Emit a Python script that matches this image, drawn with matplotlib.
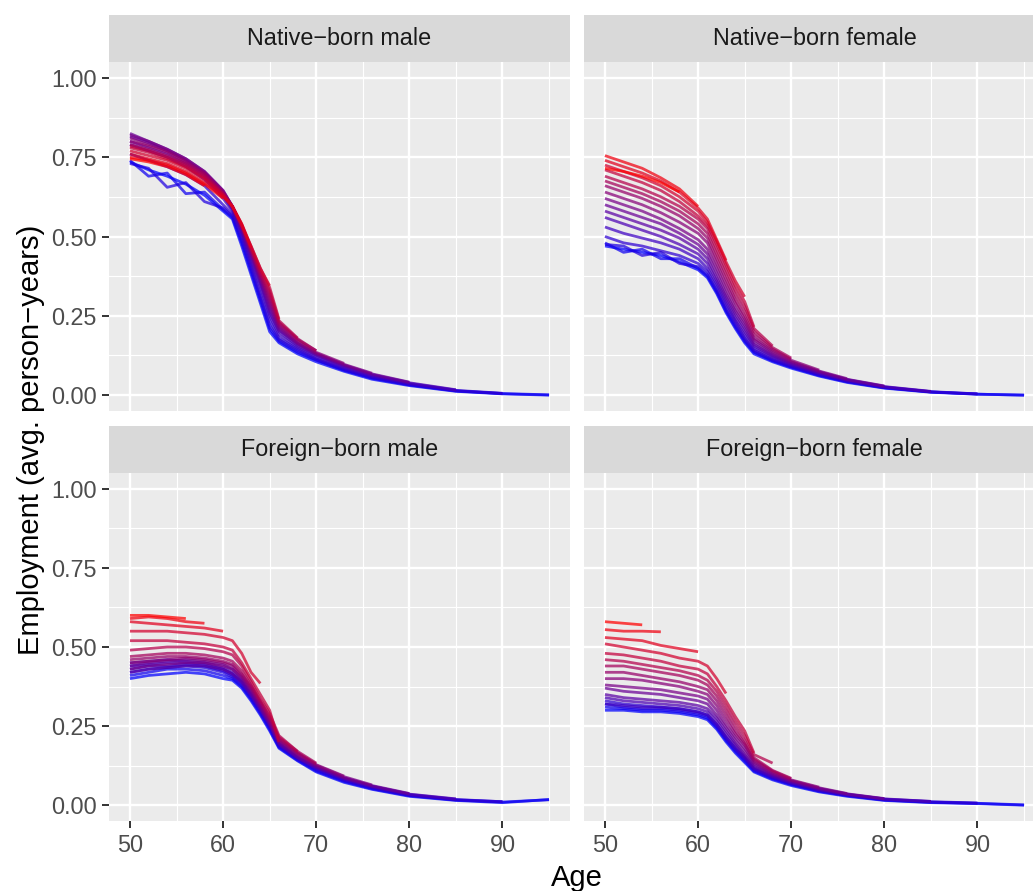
import matplotlib
matplotlib.use("Agg")
import matplotlib.pyplot as plt
from matplotlib.colors import LinearSegmentedColormap

plt.rcParams["font.family"] = ["Liberation Sans", "DejaVu Sans"]

AGES = [50, 52, 54, 56, 58, 60, 61, 62, 63, 64, 65, 66, 68, 70, 73, 76, 80, 85, 90, 95]

# one row per cohort, oldest (blue) first, youngest (red) last;
# rows stop at the last age where the cohort is observed
NB_MALE = [
    [.735, .71, .69, .665, .63, .58, .555, .47, .38, .29, .20, .165, .13, .105, .075, .05, .03, .012, .004, .0],
    [.74, .69, .70, .635, .64, .585, .56, .48, .39, .30, .21, .17, .135, .11, .078, .053, .032, .013, .005, .001],
    [.73, .715, .655, .67, .61, .59, .565, .49, .40, .31, .22, .175, .14, .112, .08, .055, .033, .014, .005],
    [.76, .74, .72, .695, .66, .60, .57, .50, .41, .32, .235, .18, .145, .115, .083, .057, .035, .015, .006],
    [.79, .77, .75, .72, .68, .62, .58, .51, .42, .34, .25, .19, .15, .12, .087, .06, .037, .016],
    [.80, .78, .76, .73, .69, .63, .585, .515, .43, .35, .26, .20, .155, .125, .09, .063, .039, .017],
    [.815, .795, .77, .74, .70, .64, .59, .52, .44, .36, .27, .205, .16, .128, .093, .065, .04],
    [.825, .80, .775, .745, .705, .645, .595, .525, .445, .365, .28, .21, .163, .13, .095, .067, .041],
    [.82, .80, .775, .745, .705, .645, .595, .53, .45, .37, .29, .215, .165, .132, .097, .069],
    [.81, .79, .77, .74, .70, .64, .595, .53, .455, .375, .30, .22, .17, .135, .10],
    [.80, .785, .765, .735, .70, .64, .595, .535, .46, .38, .31, .225, .175, .14],
    [.79, .775, .755, .73, .695, .635, .595, .535, .46, .385, .32, .23, .178, .14],
    [.785, .77, .75, .725, .69, .635, .595, .535, .465, .39, .33, .235, .18],
    [.78, .765, .745, .72, .685, .63, .595, .535, .47, .40, .34, .24],
    [.77, .755, .74, .715, .68, .63, .595, .54, .47, .40, .345],
    [.76, .745, .73, .705, .67, .625, .595, .54, .465],
    [.75, .74, .725, .70, .665, .62],
    [.745, .735, .72, .695, .66],
]

NB_FEMALE = [
    [.47, .46, .45, .44, .42, .395, .37, .32, .26, .21, .165, .13, .105, .085, .06, .04, .022, .009, .003, .0],
    [.48, .45, .46, .43, .43, .40, .375, .325, .265, .215, .17, .135, .108, .088, .062, .042, .023, .01, .003, .0],
    [.475, .47, .44, .45, .415, .405, .38, .33, .27, .22, .175, .138, .11, .09, .064, .043, .024, .01, .004],
    [.50, .48, .47, .455, .44, .415, .39, .34, .28, .23, .18, .142, .113, .092, .066, .045, .025, .011, .004],
    [.53, .51, .495, .48, .46, .43, .40, .35, .29, .235, .19, .148, .118, .095, .068, .046, .026, .011],
    [.56, .54, .52, .50, .475, .445, .415, .36, .30, .245, .20, .155, .122, .098, .07, .048, .027, .012],
    [.58, .56, .54, .52, .495, .46, .43, .37, .31, .255, .21, .16, .126, .10, .072, .049, .028],
    [.60, .58, .56, .54, .51, .475, .445, .385, .32, .265, .22, .167, .13, .103, .074, .05, .029],
    [.62, .60, .58, .555, .525, .49, .46, .40, .335, .275, .23, .175, .135, .106, .076, .052],
    [.64, .62, .60, .575, .545, .51, .48, .415, .35, .29, .24, .18, .14, .11, .079],
    [.66, .64, .62, .595, .565, .525, .495, .43, .365, .30, .25, .19, .145, .113],
    [.675, .655, .635, .61, .58, .54, .51, .445, .38, .315, .265, .20, .15, .117],
    [.69, .67, .65, .625, .595, .555, .525, .46, .395, .33, .28, .21, .155],
    [.71, .69, .67, .645, .61, .565, .535, .475, .41, .345, .295, .215],
    [.725, .705, .685, .66, .625, .58, .545, .485, .42, .36, .31],
    [.74, .72, .70, .675, .64, .59, .555, .49, .425],
    [.755, .735, .715, .685, .65, .595],
    [.715, .705, .69, .67, .64],
]

FB_MALE = [
    [.40, .41, .415, .42, .415, .40, .395, .37, .33, .285, .235, .18, .14, .105, .072, .05, .028, .015, .008, .018],
    [.41, .42, .43, .43, .425, .41, .40, .375, .335, .29, .24, .183, .142, .108, .075, .052, .03, .016, .01, .017],
    [.42, .43, .435, .44, .435, .42, .405, .38, .34, .295, .245, .186, .145, .112, .078, .054, .031, .017, .011],
    [.43, .44, .44, .445, .44, .425, .41, .385, .345, .30, .25, .19, .148, .115, .08, .056, .032, .018, .011],
    [.44, .445, .45, .45, .445, .43, .415, .39, .35, .305, .255, .193, .15, .118, .082, .058, .034, .019],
    [.45, .455, .46, .455, .45, .435, .42, .395, .355, .31, .26, .196, .152, .12, .085, .06, .035, .02],
    [.42, .43, .435, .44, .44, .43, .415, .39, .35, .305, .255, .195, .15, .12, .085, .06, .036],
    [.44, .45, .455, .46, .455, .445, .43, .40, .36, .31, .26, .20, .155, .123, .087, .062, .037],
    [.43, .44, .445, .45, .45, .44, .43, .405, .365, .315, .265, .203, .16, .126, .09, .064],
    [.45, .455, .46, .465, .46, .45, .44, .41, .37, .32, .27, .207, .163, .128, .092],
    [.46, .465, .47, .47, .465, .455, .445, .415, .375, .325, .275, .21, .166, .13],
    [.47, .475, .48, .48, .475, .465, .455, .425, .38, .33, .28, .215, .17, .133],
    [.49, .495, .50, .50, .495, .485, .475, .44, .39, .335, .29, .22, .17],
    [.52, .52, .52, .515, .51, .50, .49, .45, .40, .35, .30, .20],
    [.55, .55, .55, .545, .54, .53, .52, .48, .42, .385],
    [.58, .575, .57, .565, .56, .55],
    [.59, .595, .59, .58, .575],
    [.60, .60, .595, .59],
]

FB_FEMALE = [
    [.30, .30, .295, .295, .29, .28, .27, .24, .20, .165, .135, .105, .08, .062, .042, .028, .015, .008, .005, .0],
    [.31, .305, .30, .30, .295, .285, .275, .245, .205, .17, .14, .108, .083, .065, .044, .03, .016, .009, .006, .001],
    [.32, .31, .305, .305, .30, .29, .28, .25, .21, .175, .145, .112, .086, .067, .046, .031, .017, .01, .006],
    [.33, .32, .315, .31, .305, .295, .285, .255, .215, .18, .15, .115, .088, .069, .047, .032, .018, .011, .007],
    [.32, .315, .31, .31, .305, .295, .285, .255, .215, .18, .15, .115, .09, .07, .048, .033, .019, .012],
    [.34, .33, .325, .32, .315, .305, .295, .265, .225, .19, .155, .12, .092, .072, .05, .034, .02, .012],
    [.35, .34, .335, .33, .325, .315, .305, .275, .235, .195, .16, .124, .095, .074, .052, .035, .02],
    [.37, .36, .355, .35, .34, .33, .32, .285, .245, .205, .17, .13, .098, .076, .053, .036, .021],
    [.38, .375, .37, .365, .355, .345, .335, .30, .255, .215, .18, .135, .10, .078, .055, .037],
    [.40, .40, .395, .385, .375, .36, .35, .315, .27, .225, .19, .14, .105, .08, .057],
    [.42, .42, .41, .40, .39, .375, .365, .33, .285, .235, .195, .145, .108, .083],
    [.44, .44, .43, .42, .41, .395, .38, .345, .30, .25, .205, .15, .11, .085],
    [.46, .455, .445, .435, .425, .41, .395, .36, .315, .265, .22, .16, .133],
    [.48, .475, .465, .455, .44, .43, .415, .375, .33, .28, .235, .165],
    [.51, .50, .49, .48, .465, .455, .44, .40, .353],
    [.53, .525, .52, .505, .495, .485],
    [.555, .55, .55, .548],
    [.58, .575, .57],
]

PANELS = [
    ("Native\u2212born male", NB_MALE),
    ("Native\u2212born female", NB_FEMALE),
    ("Foreign\u2212born male", FB_MALE),
    ("Foreign\u2212born female", FB_FEMALE),
]

# plain blue -> red gradient, purple in the middle
CMAP = LinearSegmentedColormap.from_list("bluered", ["#0000FF", "#FF0000"])

W, H = 1033, 891
fig = plt.figure(figsize=(W / 100, H / 100), dpi=100)

# panel boxes in pixels: left, top, width, height
PANEL_PX = [(109, 62, 461, 349), (584, 62, 461, 349),
            (109, 473, 461, 348), (584, 473, 461, 348)]
STRIP_H = 47


def px_axes(left, top, width, height):
    return fig.add_axes([left / W, 1 - (top + height) / H, width / W, height / H])


for i, ((title, rows), (lx, ty, pw, ph)) in enumerate(zip(PANELS, PANEL_PX)):
    ax = px_axes(lx, ty, pw, ph)
    ax.set_facecolor("#EBEBEB")
    for sp in ax.spines.values():
        sp.set_visible(False)
    ax.set_xlim(47.75, 97.25)
    ax.set_ylim(-0.05, 1.05)
    ax.set_xticks([50, 60, 70, 80, 90])
    ax.set_xticks([55, 65, 75, 85, 95], minor=True)
    ax.set_yticks([0, 0.25, 0.5, 0.75, 1.0])
    ax.set_yticks([0.125, 0.375, 0.625, 0.875], minor=True)
    ax.set_yticklabels(["0.00", "0.25", "0.50", "0.75", "1.00"])
    ax.grid(which="major", color="white", lw=1.7)
    ax.grid(which="minor", color="white", lw=0.85)
    ax.set_axisbelow(True)
    ax.tick_params(which="minor", length=0)
    ax.tick_params(which="major", length=5, width=1.4, color="#333333",
                   labelsize=16.8, labelcolor="#4D4D4D", pad=4)
    if i < 2:
        ax.tick_params(axis="x", which="major", length=0, labelbottom=False)
    if i % 2 == 1:
        ax.tick_params(axis="y", which="major", length=0, labelleft=False)

    n = len(rows)
    for k, vals in enumerate(rows):
        ax.plot(AGES[:len(vals)], vals, color=CMAP(k / (n - 1)), lw=2.0,
                alpha=0.72, solid_capstyle="butt", solid_joinstyle="round")

    sax = px_axes(lx, ty - STRIP_H, pw, STRIP_H)
    sax.set_facecolor("#D9D9D9")
    sax.set_xticks([])
    sax.set_yticks([])
    for sp in sax.spines.values():
        sp.set_visible(False)
    sax.text(0.5, 0.5, title, ha="center", va="center", fontsize=16.8,
             color="#1A1A1A", transform=sax.transAxes)

fig.text(577 / W, 1 - 878 / H, "Age", ha="center", va="center", fontsize=21)
fig.text(31 / W, 1 - 440 / H, "Employment (avg. person\u2212years)", ha="center",
         va="center", rotation=90, fontsize=21)

fig.savefig("out.png", dpi=100)
